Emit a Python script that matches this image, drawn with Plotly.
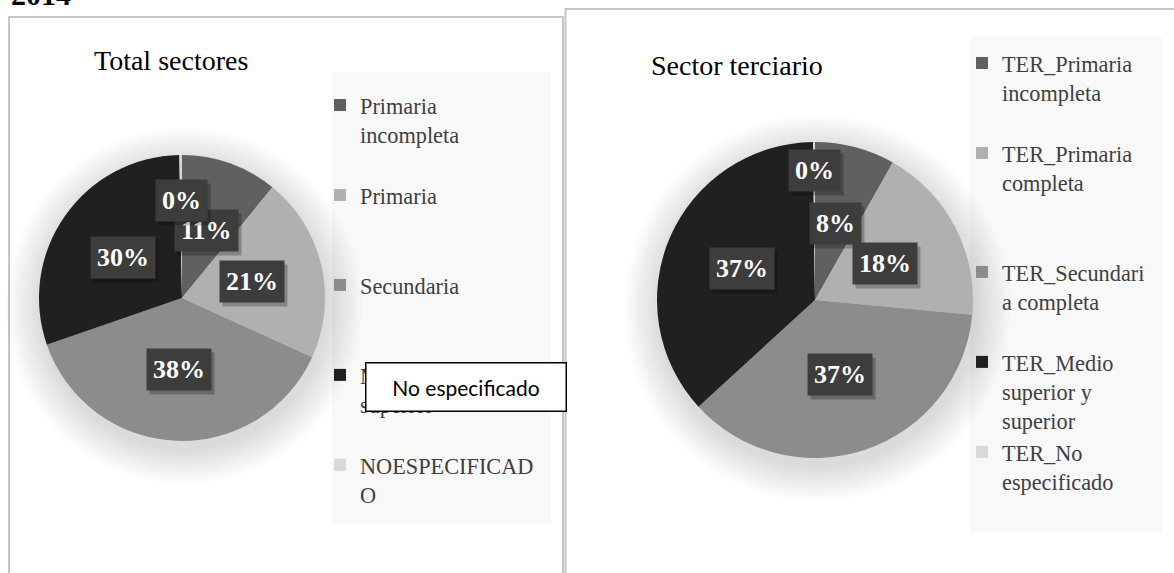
import math
import plotly.graph_objects as go

W, H = 1174, 573

# ---------------- data ----------------
page_heading = "2014"

left_title = "Total sectores"
left_labels = [
    "Primaria<br>incompleta<br>\u00a0",
    "Primaria<br>\u00a0<br>\u00a0",
    "Secundaria<br>\u00a0<br>\u00a0",
    "Medio superior y<br>superior<br>\u00a0",
    "NOESPECIFICAD<br>O",
]
left_values = [10.9, 20.9, 37.9, 30.0, 0.3]

right_title = "Sector terciario"
right_labels = [
    "TER_Primaria<br>incompleta<br>\u00a0",
    "TER_Primaria<br>completa<br>\u00a0<br>\u00a0",
    "TER_Secundari<br>a completa<br>\u00a0",
    "TER_Medio<br>superior y<br>superior",
    "TER_No<br>especificado",
]
right_values = [8.2, 18.3, 36.7, 36.6, 0.2]

overlay_text = "No especificado"

# ---------------- style ----------------
slice_colors = ["#606060", "#b0b0b0", "#8c8c8c", "#202020", "#d9d9d9"]
SERIF = "Liberation Serif"
LEG_FS = 22.3


def px_x(p):
    return p / W


def px_y(p):
    return 1 - p / H


# pie placement (pixels): centre and radius
LEFT_PIE = dict(cx=182, cy=298, r=143)
RIGHT_PIE = dict(cx=815, cy=300, r=158)


def domain(p):
    return dict(
        x=[px_x(p["cx"] - p["r"]), px_x(p["cx"] + p["r"])],
        y=[px_y(p["cy"] + p["r"]), px_y(p["cy"] - p["r"])],
    )


fig = go.Figure()

fig.add_trace(go.Pie(
    labels=left_labels, values=left_values, sort=False, direction="clockwise",
    rotation=0, marker=dict(colors=slice_colors, line=dict(width=0)),
    textinfo="none", hoverinfo="label+percent", domain=domain(LEFT_PIE),
    legend="legend", showlegend=True,
))
fig.add_trace(go.Pie(
    labels=right_labels, values=right_values, sort=False, direction="clockwise",
    rotation=0, marker=dict(colors=slice_colors, line=dict(width=0)),
    textinfo="none", hoverinfo="label+percent", domain=domain(RIGHT_PIE),
    legend="legend2", showlegend=True,
))

shapes = []
annotations = []

# panel frames
shapes.append(dict(type="rect", xref="paper", yref="paper", layer="below",
                   x0=px_x(9), x1=px_x(563), y0=px_y(17), y1=px_y(H + 20),
                   line=dict(color="#c6c6c6", width=2), fillcolor="rgba(0,0,0,0)"))
shapes.append(dict(type="rect", xref="paper", yref="paper", layer="below",
                   x0=px_x(565.5), x1=px_x(W + 20), y0=px_y(9), y1=px_y(H + 20),
                   line=dict(color="#c6c6c6", width=2), fillcolor="rgba(0,0,0,0)"))

# legend backgrounds
shapes.append(dict(type="rect", xref="paper", yref="paper", layer="below",
                   x0=px_x(332), x1=px_x(551), y0=px_y(72), y1=px_y(524),
                   line=dict(width=0), fillcolor="#f8f8f8"))
shapes.append(dict(type="rect", xref="paper", yref="paper", layer="below",
                   x0=px_x(970), x1=px_x(1162), y0=px_y(37), y1=px_y(533),
                   line=dict(width=0), fillcolor="#f8f8f8"))

# soft pie shadows
for p in (LEFT_PIE, RIGHT_PIE):
    for k in range(12):
        rr = p["r"] + 2 + 3.0 * k
        cx, cy = p["cx"] + 2, p["cy"] + 8
        shapes.append(dict(type="circle", xref="paper", yref="paper", layer="below",
                           x0=px_x(cx - rr), x1=px_x(cx + rr),
                           y0=px_y(cy + rr), y1=px_y(cy - rr),
                           line=dict(width=0), fillcolor="rgba(0,0,0,0.011)"))


def add_labels(p, values, small_r):
    total = float(sum(values))
    cum = 0.0
    for v in values:
        frac = v / total
        mid = cum + frac / 2
        cum += frac
        theta = 2 * math.pi * mid
        rf = 0.5 if frac >= 0.01 else small_r
        x = p["cx"] + rf * p["r"] * math.sin(theta)
        y = p["cy"] - rf * p["r"] * math.cos(theta)
        txt = f"{round(frac * 100):d}%"
        common = dict(x=px_x(x), y=px_y(y), xref="paper", yref="paper",
                      xanchor="center", yanchor="middle", showarrow=False,
                      text=txt, borderpad=6)
        # drop shadow
        annotations.append(dict(
            common, xshift=3, yshift=-4, bgcolor="rgba(0,0,0,0.25)",
            font=dict(family=SERIF, size=26, color="rgba(0,0,0,0)", weight="bold"),
        ))
        annotations.append(dict(
            common, bgcolor="#3d3d3d",
            font=dict(family=SERIF, size=26, color="#ffffff", weight="bold"),
        ))


add_labels(LEFT_PIE, left_values, 0.68)
add_labels(RIGHT_PIE, right_values, 0.82)

# titles
annotations.append(dict(x=px_x(171), y=px_y(61), xref="paper", yref="paper",
                        xanchor="center", yanchor="middle",
                        showarrow=False, text=left_title,
                        font=dict(family=SERIF, size=28, color="#000000")))
annotations.append(dict(x=px_x(737), y=px_y(65), xref="paper", yref="paper",
                        xanchor="center", yanchor="middle",
                        showarrow=False, text=right_title,
                        font=dict(family=SERIF, size=28, color="#000000")))

# heading cut off at the top of the page
annotations.append(dict(x=px_x(9), y=px_y(13), xref="paper", yref="paper",
                        xanchor="left", yanchor="bottom", showarrow=False,
                        text=page_heading,
                        font=dict(family=SERIF, size=30, color="#000000", weight="bold")))

# overlaid text box
annotations.append(dict(x=px_x(465.5), y=px_y(386.5), xref="paper", yref="paper",
                        xanchor="center", yanchor="middle",
                        showarrow=False, text=overlay_text, width=199, height=47,
                        align="center", valign="middle",
                        bgcolor="#ffffff", bordercolor="#000000", borderwidth=1.5,
                        borderpad=0,
                        font=dict(family="Lato", size=21, color="#000000")))

legend_font = dict(family=SERIF, size=LEG_FS, color="#404040")


def legend_cfg(x, y):
    return dict(
        x=x, y=y, bgcolor="rgba(0,0,0,0)", borderwidth=0, valign="top",
        yanchor="top", xanchor="left", orientation="v",
        itemclick=False, itemdoubleclick=False, font=dict(legend_font),
    )


fig.update_layout(
    width=W, height=H,
    margin=dict(l=0, r=0, t=0, b=0),
    paper_bgcolor="#ffffff", plot_bgcolor="#ffffff",
    showlegend=True,
    legend=legend_cfg(px_x(320), px_y(84)),
    legend2=legend_cfg(px_x(962), px_y(42)),
    shapes=shapes,
    annotations=annotations,
)

fig.write_html(
    "out.html",
    config={"displayModeBar": False},
    post_script="document.body.style.margin='0px';document.body.style.overflow='hidden';",
)
